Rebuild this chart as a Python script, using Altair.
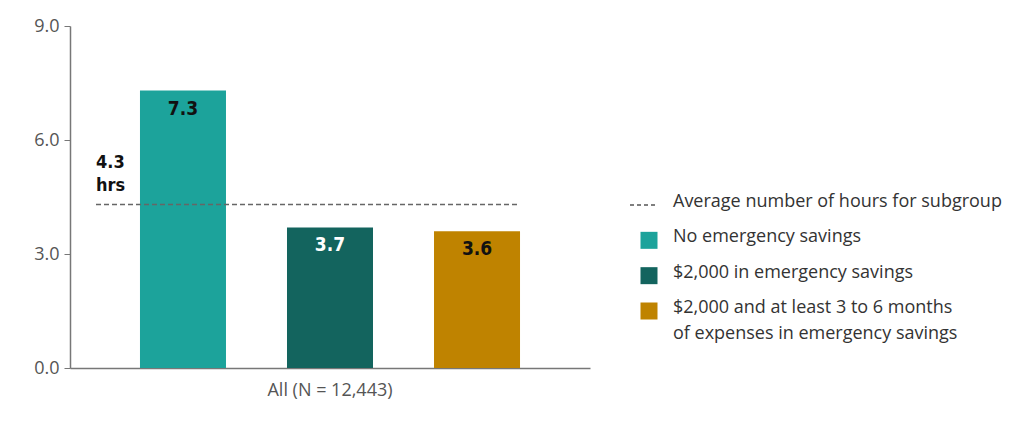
import altair as alt
import pandas as pd

group = ["All (N = 12,443)"] * 3
subgroups = ["No emergency savings", "$2,000 in emergency savings",
             "$2,000 and at least 3 to 6 months of expenses in emergency savings"]
values = [7.3, 3.7, 3.6]
label_colors = ["#111111", "#ffffff", "#111111"]
bar_colors = ["#1CA39B", "#13645E", "#BF8300"]
average = 4.3
avg_label = ["4.3", "hrs"]

legend_items = ["avg", "s0", "s1", "s2"]
legend_texts = ["Average number of hours for subgroup", "No emergency savings",
                "$2,000 in emergency savings",
                "$2,000 and at least 3 to 6 months\nof expenses in emergency savings"]

df = pd.DataFrame({"group": group, "subgroup": subgroups, "value": values,
                   "lc": label_colors, "label": [f"{v:.1f}" for v in values]})

FONT = "Open Sans"

xenc = alt.X("group:N", title=None,
             scale=alt.Scale(paddingInner=0, paddingOuter=0),
             axis=alt.Axis(labelFontSize=18, labelColor="#555555", labelFont=FONT,
                           labelAngle=0, ticks=False, domainColor="#777777",
                           domainWidth=1.5, labelPadding=13))
xoff = alt.XOffset("subgroup:N", sort=subgroups,
                   scale=alt.Scale(paddingInner=0.415, paddingOuter=0.476))
yenc = alt.Y("value:Q", title=None,
             scale=alt.Scale(domain=[0, 9]),
             axis=alt.Axis(values=[0, 3, 6, 9], format=".1f", grid=False,
                           labelFontSize=18, labelColor="#555555", labelFont=FONT,
                           tickSize=6, tickColor="#777777", domainColor="#777777",
                           domainWidth=1.5, labelPadding=5))

base = alt.Chart(df)
bars = base.mark_bar().encode(
    x=xenc, xOffset=xoff, y=yenc,
    color=alt.Color("subgroup:N", sort=subgroups,
                    scale=alt.Scale(domain=subgroups, range=bar_colors), legend=None),
)
labels = base.mark_text(baseline="top", dy=9, fontSize=19, fontWeight="bold",
                        font="DejaVu Sans Condensed").encode(
    x=alt.X("group:N"), xOffset=xoff, y=alt.Y("value:Q"),
    text="label:N", color=alt.Color("lc:N", scale=None),
)
avg_df = pd.DataFrame({"avg": [average], "txt": ["\n".join(avg_label)]})
rule = alt.Chart(avg_df).mark_rule(strokeDash=[5, 3], color="#666666", strokeWidth=1.5).encode(
    y="avg:Q", x=alt.value(26), x2=alt.value(448))
avg_text = alt.Chart(avg_df).mark_text(align="left", baseline="bottom", dy=-33, lineBreak="\n",
                                       lineHeight=23, fontSize=18, fontWeight="bold",
                                       font="DejaVu Sans Condensed", color="#111111").encode(
    y="avg:Q", x=alt.value(26), text="txt:N")

main = alt.layer(bars, rule, avg_text, labels).properties(width=520, height=342)

leg_df = pd.DataFrame({"item": legend_items, "text": legend_texts,
                       "color": ["#666666"] + bar_colors})
yleg = alt.Y("item:N", sort=legend_items, axis=None,
             scale=alt.Scale(type="point", padding=0, range=[179, 285]))
leg_base = alt.Chart(leg_df)
leg_sq = leg_base.transform_filter(alt.datum.item != "avg").mark_square(size=289, opacity=1).encode(
    y=yleg, x=alt.value(39), color=alt.Color("color:N", scale=None))
leg_line = leg_base.transform_filter(alt.datum.item == "avg").mark_rule(
    strokeDash=[4, 3], strokeWidth=1.5, color="#555555").encode(
    y=yleg, x=alt.value(20), x2=alt.value(47))
leg_txt = leg_base.mark_text(align="left", baseline="top", dy=-12, lineBreak="\n", lineHeight=26,
                             fontSize=18, font=FONT, color="#333333").encode(
    y=yleg, x=alt.value(63), text="text:N")
legend = alt.layer(leg_line, leg_sq, leg_txt).properties(width=370, height=342)

chart = alt.hconcat(main, legend, spacing=20).properties(
    padding={"left": 25, "top": 9, "right": 5, "bottom": 5}
).configure_view(strokeWidth=0)

chart.save("out.html", embed_options={"renderer": "svg", "actions": False})
